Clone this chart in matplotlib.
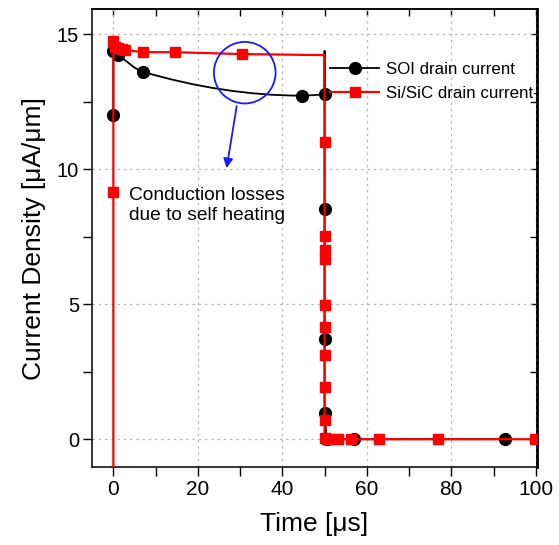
import matplotlib
matplotlib.use("Agg")
import matplotlib.pyplot as plt
from matplotlib.patches import Ellipse, PathPatch
from matplotlib.path import Path
from matplotlib.lines import Line2D
from matplotlib.ticker import MultipleLocator

plt.rcParams['font.family'] = ['Liberation Sans', 'DejaVu Sans']

# SOI drain current (black circles)
soi_t = [0, 0, 1.15, 7.05, 44.6, 50, 50, 50, 50, 50, 50.5, 56.9, 92.8]
soi_j = [12.01, 14.4, 14.23, 13.61, 12.73, 12.78, 14.4, 8.52, 3.70, 0.96, 0.0, 0.0, 0.0]
soi_marks = [0, 1, 2, 3, 4, 5, 7, 8, 9, 10, 11, 12]
soi_smooth = (2, 5)  # indices of the spline-connected stretch

# Si/SiC drain current (red squares)
sic_t = [0, 0, 0, 0.3, 1.0, 2.0, 2.8, 7.05, 14.5, 30.4, 50,
         50, 50, 50, 50, 50, 50, 50, 50, 50, 50,
         50.5, 51.3, 53.2, 56.3, 62.9, 76.9, 99.7]
sic_j = [-2.0, 9.15, 14.75, 14.55, 14.5, 14.45, 14.42, 14.34, 14.34, 14.27, 14.23,
         11.02, 7.53, 7.0, 6.67, 4.97, 4.15, 3.12, 1.93, 0.71, 0.04,
         0.0, 0.0, 0.0, 0.0, 0.0, 0.0, 0.0]
sic_marks = [i for i in range(len(sic_t)) if i not in (0, 10)]


def spline_path(xs, ys, i0, i1):
    # straight segments, except a monotone (pchip-like) bezier between i0..i1
    h = [xs[k + 1] - xs[k] for k in range(i0, i1)]
    d = [(ys[k + 1] - ys[k]) / h[k - i0] for k in range(i0, i1)]
    m = [d[0]]
    for j in range(1, len(d)):
        if d[j - 1] * d[j] <= 0:
            m.append(0.0)
        else:
            w1 = 2 * h[j] + h[j - 1]
            w2 = h[j] + 2 * h[j - 1]
            m.append((w1 + w2) / (w1 / d[j - 1] + w2 / d[j]))
    m.append(d[-1])

    verts = [(xs[0], ys[0])]
    codes = [Path.MOVETO]
    for i in range(1, len(xs)):
        if i0 < i <= i1:
            j = i - 1 - i0
            dx = h[j] / 3
            verts += [(xs[i - 1] + dx, ys[i - 1] + m[j] * dx),
                      (xs[i] - dx, ys[i] - m[j + 1] * dx),
                      (xs[i], ys[i])]
            codes += [Path.CURVE4] * 3
        else:
            verts.append((xs[i], ys[i]))
            codes.append(Path.LINETO)
    return Path(verts, codes)


fig = plt.figure(figsize=(5.59, 5.45), dpi=100)
ax = fig.add_axes([0.165, 0.1426, 0.795, 0.8404])

ax.add_patch(PathPatch(spline_path(soi_t, soi_j, *soi_smooth), fill=False,
                       edgecolor='black', lw=1.3, zorder=3))
ax.plot(soi_t, soi_j, color='black', ls='none', marker='o', ms=8.5,
        markevery=soi_marks, zorder=3)
ax.plot(sic_t, sic_j, color='#ff0000', lw=1.6, marker='s', ms=7.5,
        markevery=sic_marks, zorder=4)

ax.set_xlim(-5, 100.2)
ax.set_ylim(-1.04, 15.93)
ax.xaxis.set_major_locator(MultipleLocator(20))
ax.xaxis.set_minor_locator(MultipleLocator(10))
ax.yaxis.set_major_locator(MultipleLocator(5))
ax.yaxis.set_minor_locator(MultipleLocator(2.5))
ax.grid(True, which='major', color='#b8b8b8', linestyle=(0, (2, 3)), lw=0.9)
ax.set_axisbelow(True)

ax.tick_params(which='both', direction='out', color='black', width=1.0)
ax.tick_params(which='major', length=6.5, pad=3)
ax.tick_params(which='minor', length=6.5)
ax.tick_params(axis='x', labelsize=15)
ax.tick_params(axis='y', labelsize=14.5)

top = ax.secondary_xaxis('top')
top.xaxis.set_major_locator(MultipleLocator(10))
top.tick_params(direction='in', length=5, width=1.0, labeltop=False)
right = ax.secondary_yaxis('right')
right.yaxis.set_major_locator(MultipleLocator(2.5))
right.tick_params(direction='in', length=5, width=1.0, labelright=False)

for sp in ax.spines.values():
    sp.set_linewidth(1.1)
top.spines['top'].set_linewidth(1.1)
right.spines['right'].set_linewidth(2.0)

ax.set_xlabel('Time [\u03bcs]', fontsize=19, labelpad=9)
ax.set_ylabel('Current Density [\u03bcA/\u03bcm]', fontsize=19, labelpad=8)

handles = [Line2D([], [], color='black', lw=1.3, marker='o', ms=8.5),
           Line2D([], [], color='#ff0000', lw=1.6, marker='s', ms=7.5)]
ax.legend(handles, ['SOI drain current', 'Si/SiC drain current-'],
          loc='upper left', bbox_to_anchor=(0.535, 0.885), frameon=False,
          fontsize=12.2, borderpad=0, borderaxespad=0, handlelength=2.9,
          handletextpad=0.4, labelspacing=0.55)

ax.add_patch(Ellipse((31.1, 13.58), 14.6, 2.28, fill=False,
                     edgecolor='#1a1aff', lw=1.3, zorder=5))
ax.annotate('', xy=(26.8, 10.04), xytext=(29.2, 12.34),
            arrowprops=dict(arrowstyle='-|>', color='#1a1aff', lw=1.3,
                            mutation_scale=14, shrinkA=0, shrinkB=0), zorder=5)
ax.text(3.78, 8.65, 'Conduction losses\ndue to self heating', fontsize=13.8,
        va='center', ha='left', linespacing=1.25, zorder=6)

fig.savefig('out.png', dpi=100)
